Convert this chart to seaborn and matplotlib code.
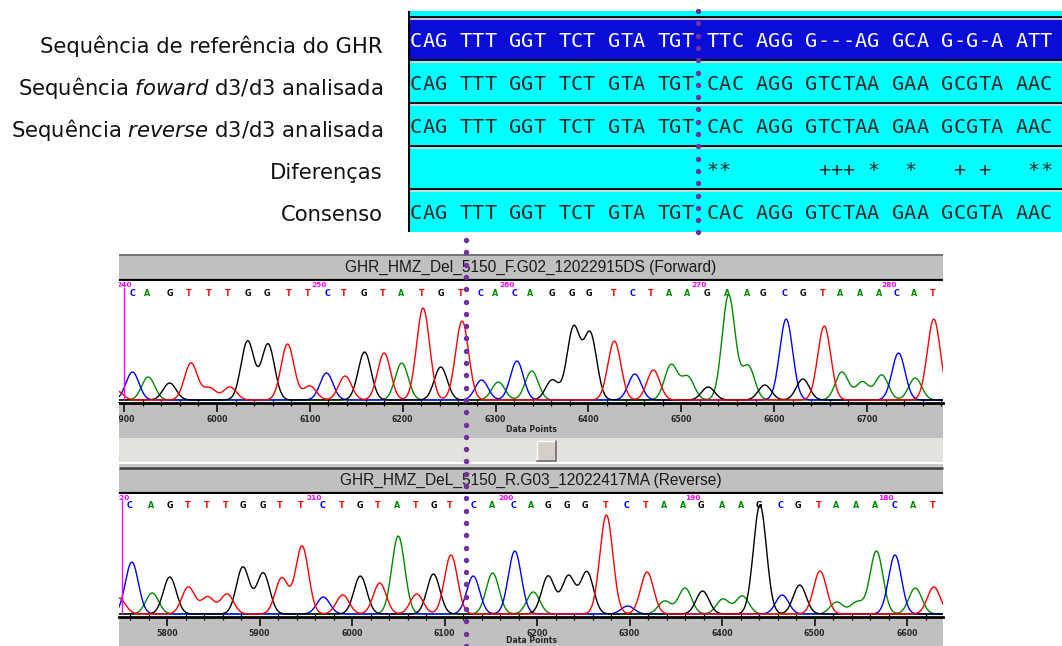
import numpy as np
import pandas as pd
import matplotlib
matplotlib.use("Agg")
import matplotlib.pyplot as plt
from matplotlib.colors import ListedColormap
from matplotlib.patches import Rectangle
from matplotlib.ticker import MultipleLocator
import seaborn as sns

sns.set_style("white")

W, H = 1062, 646

# ---------------- alignment (top) ----------------
row_names = [
    "Sequência de referência do GHR",
    r"Sequência $\mathit{foward}$ d3/d3 analisada",
    r"Sequência $\mathit{reverse}$ d3/d3 analisada",
    "Diferenças",
    "Consenso",
]
ref_seq = "CAG TTT GGT TCT GTA TGT TTC AGG G---AG GCA G-G-A ATT"
fwd_seq = "CAG TTT GGT TCT GTA TGT CAC AGG GTCTAA GAA GCGTA AAC"
rev_seq = "CAG TTT GGT TCT GTA TGT CAC AGG GTCTAA GAA GCGTA AAC"
diff_seq = " " * 24 + "**" + " " * 7 + "+++ *  *   + +   **"
cons_seq = "CAG TTT GGT TCT GTA TGT CAC AGG GTCTAA GAA GCGTA AAC"

# ---------------- chromatograms (bottom) ----------------
bases_called = "CAGTTTGGTTCTGTATGTCACAGGGTCTAAGAAGCGTAAACAT"

fwd_title = "GHR_HMZ_Del_5150_F.G02_12022915DS (Forward)"
fwd_base_pos = [5909, 5925, 5949, 5970, 5991, 6012, 6033, 6054, 6077, 6098,
                6119, 6137, 6158, 6179, 6198, 6220, 6241, 6263, 6284, 6299,
                6321, 6337, 6361, 6382, 6401, 6427, 6448, 6467, 6487, 6506,
                6528, 6549, 6571, 6588, 6611, 6631, 6652, 6671, 6693, 6713,
                6732, 6751, 6771]
fwd_A_pos = [5926, 6199, 6303, 6339, 6489, 6507, 6551, 6572, 6673, 6695, 6716, 6752]
fwd_A_h = [23, 37, 18, 29, 35, 23, 105, 34, 28, 18, 25, 22]
fwd_C_pos = [5909, 6118, 6285, 6323, 6450, 6613, 6734]
fwd_C_h = [28, 27, 20, 39, 26, 81, 47]
fwd_G_pos = [5949, 6033, 6055, 6159, 6241, 6361, 6384, 6402, 6529, 6590, 6631]
fwd_G_h = [17, 59, 56, 48, 33, 20, 72, 66, 13, 15, 21]
fwd_T_pos = [5891, 5972, 5992, 6014, 6076, 6100, 6138, 6180, 6222, 6264, 6428, 6470, 6654, 6772]
fwd_T_h = [10, 37, 12, 13, 56, 14, 24, 47, 92, 79, 59, 30, 74, 81]

rev_title = "GHR_HMZ_DeL_5150_R.G03_12022417MA (Reverse)"
rev_base_pos = [5760, 5783, 5803, 5822, 5843, 5863, 5882, 5904, 5922, 5944,
                5968, 5989, 6009, 6028, 6049, 6069, 6088, 6106, 6131, 6151,
                6175, 6194, 6212, 6232, 6252, 6274, 6297, 6317, 6337, 6358,
                6377, 6400, 6421, 6440, 6463, 6482, 6505, 6523, 6545, 6565,
                6586, 6607, 6628]
rev_A_pos = [5784, 6050, 6152, 6196, 6338, 6360, 6401, 6422, 6524, 6546, 6567, 6609]
rev_A_h = [21, 78, 41, 22, 13, 26, 15, 18, 12, 12, 63, 26]
rev_C_pos = [5762, 5969, 6131, 6176, 6298, 6465, 6587]
rev_C_h = [52, 17, 38, 63, 8, 19, 59]
rev_G_pos = [5803, 5882, 5904, 6009, 6088, 6212, 6234, 6254, 6379, 6441, 6484]
rev_G_h = [37, 47, 41, 38, 40, 38, 38, 42, 23, 109, 29]
rev_T_pos = [5748, 5823, 5844, 5865, 5924, 5946, 5990, 6030, 6070, 6107, 6275, 6319, 6506, 6629]
rev_T_h = [16, 27, 17, 20, 36, 68, 19, 31, 20, 59, 99, 42, 43, 27]

base_colors = {"A": "#008a00", "C": "#0000ff", "G": "#000000", "T": "#ff0000"}
PEAK_SD = 7.0
GRAY = "#c0c0c0"


def px_rect(x0, y0, x1, y1):
    return [x0 / W, 1 - y1 / H, (x1 - x0) / W, (y1 - y0) / H]


fig = plt.figure(figsize=(W / 100, H / 100), dpi=100)

# background layer in pixel coordinates (window chrome + row labels)
bg = fig.add_axes([0, 0, 1, 1], zorder=0)
bg.set_xlim(0, W)
bg.set_ylim(H, 0)
bg.axis("off")


def box(x0, y0, x1, y1, color, ax=bg):
    ax.add_patch(Rectangle((x0, y0), x1 - x0, y1 - y0, facecolor=color, edgecolor="none"))


def hline(y, x0, x1, color, lw):
    bg.plot([x0, x1], [y, y], color=color, lw=lw, solid_capstyle="butt")


L, R = 119, 943
# forward window
box(L, 254, R, 281, GRAY)
hline(254.8, L, R, "#6e6e6e", 1.3)
hline(280.2, L, R, "#000000", 1.6)
box(L, 402, R, 438, GRAY)
box(L, 438, R, 462, "#e4e2de")
box(L, 462, R, 464, "#ffffff")
box(L, 464, R, 467, "#c8c8c8")
hline(468, L, R, "#3a3a3a", 1.8)
# scroll button
box(537, 441, 556, 461, "#d4d0c8")
bg.plot([537, 537, 556], [461, 441, 441], color="white", lw=1)
bg.plot([537, 556, 556], [461, 461, 441], color="#6c6c6c", lw=1.2)
# reverse window
box(L, 469, R, 494, GRAY)
hline(493.2, L, R, "#000000", 1.6)
box(L, 616, R, H, GRAY)

bg.text((L + R) / 2, 267, fwd_title, ha="center", va="center",
        fontsize=11.2, family="Liberation Sans", color="#1a1a1a")
bg.text((L + R) / 2, 480, rev_title, ha="center", va="center",
        fontsize=11.2, family="Liberation Sans", color="#1a1a1a")

for i, name in enumerate(row_names):
    bg.text(383, 53 + 42 * i, name, ha="right", va="baseline",
            fontsize=15.2, family="DejaVu Sans", color="#111111")

# ---------------- alignment heatmap ----------------
align_rows = ["", ref_seq, fwd_seq, rev_seq, diff_seq, cons_seq]
annot = np.array([list(" " + r.ljust(52) + " ") for r in align_rows])
shade = np.zeros(annot.shape)
shade[1, :] = 1

ax_al = fig.add_axes(px_rect(408, 11, 1062, 232), zorder=1)
sns.heatmap(shade, ax=ax_al, cmap=ListedColormap(["#00ffff", "#0c0cd8"]),
            vmin=0, vmax=1, cbar=False, annot=annot, fmt="",
            annot_kws=dict(fontfamily="DejaVu Sans Mono", fontsize=14.6),
            xticklabels=False, yticklabels=False)
ax_al.set_xlim(0.838, 53.79)
ax_al.set_ylim(6.0, 0.86)
for t in ax_al.texts:
    x, y = t.get_position()
    t.set_position((x, y + 0.06))
for b in range(1, 6):
    ax_al.axhline(b, color="#111111", lw=1.4)
    ax_al.axhline(b + 0.055, color="#d8d8d8", lw=1.3)
ax_al.axvline(0.9, color="black", lw=1.5)
ax_al.tick_params(length=0)


# ---------------- chromatogram panels ----------------
def chromatogram(rect, peaks, base_pos, first_num, step, xlim, top, labelpad):
    ax = fig.add_axes(rect, zorder=1)
    xs = np.arange(np.floor(xlim[0]) - 5, np.ceil(xlim[1]) + 6, 1.0)
    frames = []
    for b in "ACGT":
        pos, hts = peaks[b]
        sig = np.zeros_like(xs)
        for p, h in zip(pos, hts):
            sig += h * np.exp(-0.5 * ((xs - p) / PEAK_SD) ** 2)
        frames.append(pd.DataFrame({"dp": xs, "signal": sig, "base": b}))
    df = pd.concat(frames, ignore_index=True)
    sns.lineplot(data=df, x="dp", y="signal", hue="base", hue_order=list("ACGT"),
                 palette=base_colors, estimator=None, linewidth=1.0,
                 legend=False, ax=ax)
    ax.set_xlim(*xlim)
    ax.set_ylim(-3, top)
    ax.set_facecolor("white")
    ax.set_ylabel("")
    ax.set_yticks([])
    for s in ("left", "right", "top"):
        ax.spines[s].set_visible(False)
    ax.spines["bottom"].set_color("black")
    ax.spines["bottom"].set_linewidth(2)

    for p, b in zip(base_pos, bases_called):
        ax.text(p, top - 12, b, color=base_colors[b], ha="center", va="center",
                fontsize=5.8, fontweight="bold", family="DejaVu Sans", clip_on=True)
    num_x = [base_pos[i] - 8.6 for i in range(0, len(base_pos), 10)]
    for k, nx in enumerate(num_x):
        ax.text(nx, top - 4, str(first_num + step * 10 * k), color="#ff00ff",
                ha="center", va="center", fontsize=5.3, fontweight="bold",
                family="DejaVu Sans", clip_on=True)
    ax.vlines(num_x[0], 0, top - 6, color="#ff00ff", lw=1)

    ax.xaxis.set_major_locator(MultipleLocator(100))
    ax.xaxis.set_minor_locator(MultipleLocator(20))
    ax.tick_params(axis="x", which="major", direction="out", length=6.5, width=1.1,
                   color="black", pad=2, labelsize=5.6, bottom=True)
    ax.tick_params(axis="x", which="minor", direction="inout", length=4.5,
                   width=0.9, color="black", bottom=True)
    for lab in ax.get_xticklabels():
        lab.set_fontweight("bold")
        lab.set_family("DejaVu Sans")
    ax.set_xlabel("Data Points", fontsize=5.6, fontweight="bold",
                  family="DejaVu Sans", labelpad=labelpad)
    return ax


fwd_peaks = {"A": (fwd_A_pos, fwd_A_h), "C": (fwd_C_pos, fwd_C_h),
             "G": (fwd_G_pos, fwd_G_h), "T": (fwd_T_pos, fwd_T_h)}
rev_peaks = {"A": (rev_A_pos, rev_A_h), "C": (rev_C_pos, rev_C_h),
             "G": (rev_G_pos, rev_G_h), "T": (rev_T_pos, rev_T_h)}

chromatogram(px_rect(L, 281, R, 403), fwd_peaks, fwd_base_pos, 240, 1,
             (5894.5, 6781.9), 119, 1)
chromatogram(px_rect(L, 494, R, 617), rev_peaks, rev_base_pos, 220, -1,
             (5748.1, 6638.9), 120, -1.2)

# ---------------- overlay: breakpoint dotted line ----------------
fg = fig.add_axes([0, 0, 1, 1], zorder=5)
fg.set_xlim(0, W)
fg.set_ylim(H, 0)
fg.axis("off")
fg.patch.set_alpha(0)
box(100, 403, L, 438, "white", ax=fg)
top_y = np.arange(11, 236, 12.3)
bot_y = np.arange(240, 650, 12.3)
fg.scatter(np.full(top_y.shape, 698.0), top_y, s=15, color="#7030a0", linewidths=0)
fg.scatter(np.full(bot_y.shape, 465.5), bot_y, s=15, color="#7030a0", linewidths=0)

fig.savefig("out.png", dpi=100)
